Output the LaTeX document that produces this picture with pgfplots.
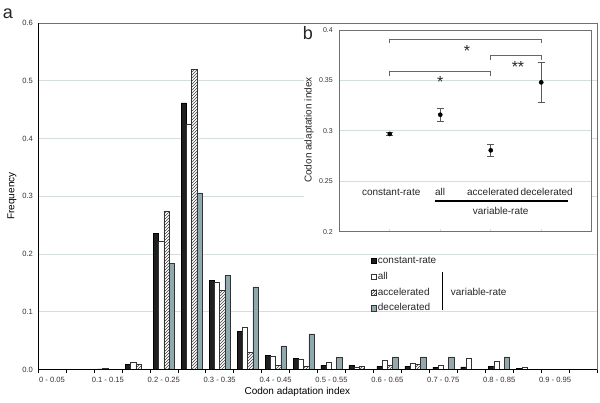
\documentclass[border=0pt]{standalone}
\usepackage{pgfplots}
\usepackage{pgfplotstable}
\pgfplotsset{compat=1.18}
\usepackage{fontspec}
\setmainfont{Liberation Sans}
\usetikzlibrary{patterns}
\definecolor{decel}{HTML}{8FA9AF}
\definecolor{gridc}{HTML}{D3DEDF}
\definecolor{framec}{HTML}{707070}
\definecolor{barline}{HTML}{333333}

\pgfplotstableread{
x cr all acc dec
0 nan nan nan nan
1 nan nan nan nan
2 0.001 0.003 nan nan
3 0.0093 0.012 0.0087 nan
4 0.236 0.2225 0.2745 0.184
5 0.4615 0.425 0.520 0.306
6 0.154 0.151 0.137 0.163
7 0.0655 0.073 0.030 0.143
8 0.025 0.0235 0.007 0.041
9 0.0195 0.0177 0.006 0.0615
10 0.0075 0.0127 nan 0.021
11 0.007 0.004 0.006 nan
12 0.006 0.016 0.007 0.022
13 0.006 0.011 0.009 0.022
14 0.004 0.0075 nan 0.022
15 0.0046 0.019 nan nan
16 0.005 0.014 nan 0.022
17 0.002 0.004 nan nan
18 nan nan nan nan
19 nan nan nan nan
}\datatable

\begin{document}
\begin{tikzpicture}[x=1pt,y=1pt]
\useasboundingbox (0,0) rectangle (600,402);
\begin{axis}[
  at={(38pt,32.5pt)}, anchor=south west,
  width=559pt, height=346.5pt, scale only axis,
  xmin=-0.5, xmax=19.5, ymin=0, ymax=0.6,
  ybar=0pt, bar width=5.25pt,
  legend image code/.code={\draw[#1, line width=0.5pt] (0pt,-2.6pt) rectangle (5.2pt,2.6pt);},
  axis line style={framec, line width=0.8pt},
  xtick={0,2,...,18},
  xticklabels={0 - 0.05, 0.1 - 0.15, 0.2 - 0.25, 0.3 - 0.35, 0.4 - 0.45, 0.5 - 0.55, 0.6 - 0.65, 0.7 - 0.75, 0.8 - 0.85, 0.9 - 0.95},
  minor xtick={-0.5,0.5,...,19.5},
  ytick={0,0.1,0.2,0.3,0.4,0.5,0.6},
  tick align=outside, tick pos=left,
  major tick length=0pt, minor tick length=3.5pt,
  minor x tick style={black, line width=0.5pt},
  xticklabel style={font=\fontsize{7.6}{9}\selectfont, yshift=-4.5pt, text=black!80},
  yticklabel style={font=\fontsize{7.6}{9}\selectfont, xshift=-1.5pt, text=black!80,
    /pgf/number format/.cd, fixed, fixed zerofill, precision=1, assume math mode=true},
  ymajorgrids, grid style={gridc, line width=0.9pt},
  xlabel={Codon adaptation index},
  ylabel={Frequency},
  label style={font=\fontsize{10}{12}\selectfont, text=black!85},
  every axis x label/.style={at={(axis description cs:0.464,-0.065)}, anchor=center},
  every axis y label/.style={at={(axis description cs:-0.0465,0.5007)}, anchor=center, rotate=90},
  legend style={at={(axis description cs:0.5957,0.3296)}, anchor=north west, draw=none, fill=none,
    font=\fontsize{10}{12}\selectfont, text=black!85, inner sep=0pt, row sep=4.5pt,
    nodes={inner sep=1pt, text height=7.2pt, text depth=2pt}},
  legend cell align=left,
]
\addplot[fill=black!88, draw=black] table[x=x, y=cr] {\datatable};
\addlegendentry{constant-rate}
\addplot[fill=white, draw=barline, line width=0.5pt] table[x=x, y=all] {\datatable};
\addlegendentry{all}
\addplot[fill=white, draw=barline, line width=0.5pt, postaction={pattern=north east lines, pattern color=black!75}] table[x=x, y=acc] {\datatable};
\addlegendentry{accelerated}
\addplot[fill=decel, draw=barline, line width=0.5pt] table[x=x, y=dec] {\datatable};
\addlegendentry{decelerated}
\draw[black, line width=0.8pt] (rel axis cs:0,1) -- (rel axis cs:0,0) -- (rel axis cs:1,0);
\end{axis}

% legend bracket for variable-rate
\draw[black, line width=1.2pt] (442.7,130) -- (442.7,92);
\node[anchor=west, inner sep=0pt, font=\fontsize{10}{12}\selectfont, text=black!85] at (450.7,110) {variable-rate};

% panel letters
\node[font=\fontsize{18}{20}\selectfont, text=black!85] at (8,388) {a};

% inset background
\fill[white] (304,163) rectangle (592,378);

\begin{axis}[
  at={(339.3pt,170.3pt)}, anchor=south west,
  width=252.4pt, height=201.7pt, scale only axis,
  xmin=0, xmax=5, ymin=0.2, ymax=0.4,
  xtick={1,2,3,4}, xticklabels={},
  ytick={0.2,0.25,0.3,0.35,0.4},
  axis line style={framec, line width=0.8pt},
  tick align=inside, xtick pos=bottom, ytick style={draw=none},
  major tick length=3pt, xtick style={gridc, line width=0.6pt},
  yticklabel style={font=\fontsize{7}{8}\selectfont, text=black!80, xshift=-3pt,
    /pgf/number format/.cd, fixed, precision=2, assume math mode=true},
  ymajorgrids, grid style={gridc, line width=0.9pt},
  ylabel={Codon adaptation index},
  every axis y label/.style={at={(axis description cs:-0.120,0.504)}, anchor=center, rotate=90,
    font=\fontsize{10}{12}\selectfont, text=black!85},
  clip=false,
]
\addplot[only marks, mark=*, mark size=2.1pt, black,
  error bars/.cd, y dir=both, y explicit,
  error bar style={black!65, line width=0.6pt},
  error mark options={rotate=90, mark size=3.6pt, black!65, line width=0.6pt}]
 coordinates {(1,0.2969) +- (0,0.0012) (2,0.3160) +- (0,0.0068) (3,0.2807) +- (0,0.0058) (4,0.3481) +- (0,0.0195)};
% significance brackets
\draw[black!60, line width=0.8pt] (axis cs:1,0.3868) -- (axis cs:1,0.3908) -- (axis cs:4,0.3908) -- (axis cs:4,0.3868);
\draw[black!60, line width=0.8pt] (axis cs:3,0.3703) -- (axis cs:3,0.3752) -- (axis cs:4,0.3752) -- (axis cs:4,0.3703);
\draw[black!60, line width=0.8pt] (axis cs:1,0.3544) -- (axis cs:1,0.3593) -- (axis cs:3,0.3593) -- (axis cs:3,0.3544);
\node[anchor=base, inner sep=0pt, font=\fontsize{16}{18}\selectfont, text=black!85] at (axis cs:2.53,0.3741) {*};
\node[anchor=base, inner sep=0pt, font=\fontsize{16}{18}\selectfont, text=black!85] at (axis cs:3.54,0.3583) {**};
\node[anchor=base, inner sep=0pt, font=\fontsize{16}{18}\selectfont, text=black!85] at (axis cs:2.0,0.3431) {*};
% category labels
\node[inner sep=0pt, font=\fontsize{10}{12}\selectfont, text=black!85] at (axis cs:1.028,0.2394) {constant-rate};
\node[inner sep=0pt, font=\fontsize{10}{12}\selectfont, text=black!85] at (axis cs:1.995,0.2394) {all};
\node[inner sep=0pt, font=\fontsize{10}{12}\selectfont, text=black!85] at (axis cs:3.045,0.2394) {accelerated};
\node[inner sep=0pt, font=\fontsize{10}{12}\selectfont, text=black!85] at (axis cs:4.108,0.2394) {decelerated};
\draw[black, line width=1.3pt] (axis cs:1.896,0.2304) -- (axis cs:4.53,0.2304);
\node[inner sep=0pt, font=\fontsize{10}{12}\selectfont, text=black!85] at (axis cs:3.197,0.2208) {variable-rate};
\end{axis}
\node[font=\fontsize{18}{20}\selectfont, text=black!85] at (308,368.5) {b};
\end{tikzpicture}
\end{document}
